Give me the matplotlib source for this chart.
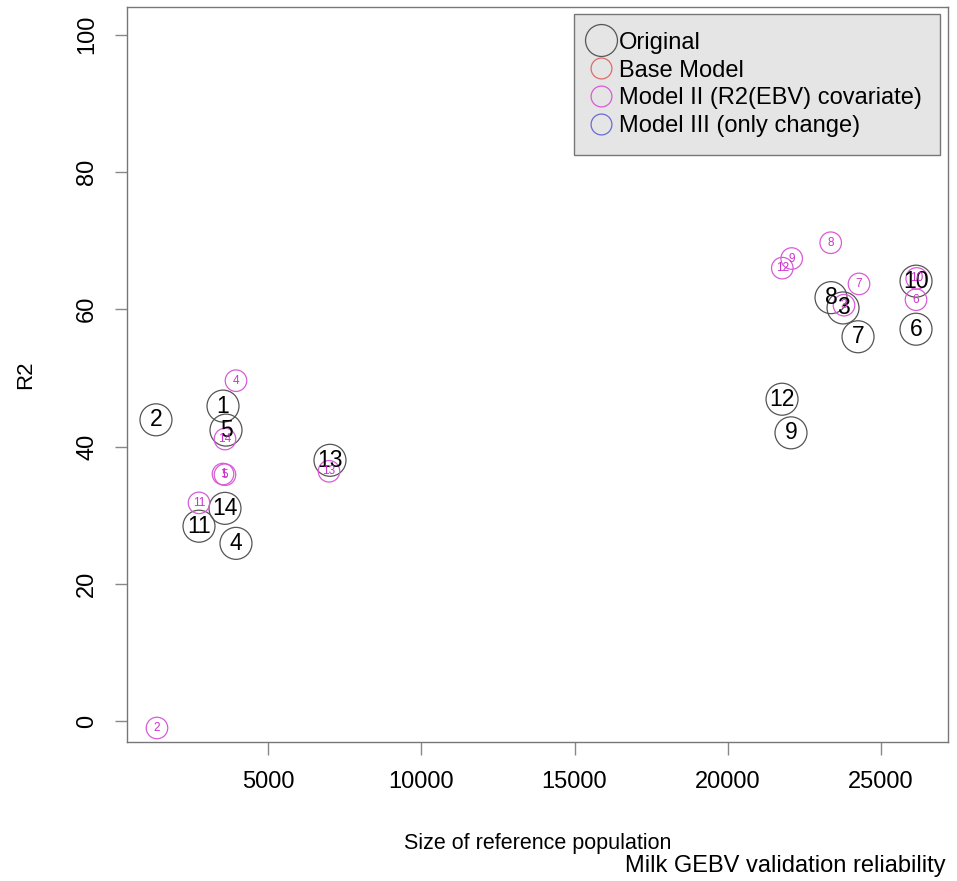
import matplotlib.pyplot as plt
from matplotlib.lines import Line2D

plt.rcParams['font.family'] = ['Liberation Sans', 'DejaVu Sans']

# original model: population size, R2, label
orig_x = [3521, 1332, 23769, 3945, 3619, 26153, 24259, 23377, 22070, 26153, 2737, 21777, 7015, 3586]
orig_y = [45.9, 43.9, 60.2, 25.9, 42.4, 57.1, 56.0, 61.7, 42.0, 64.1, 28.4, 46.9, 38.0, 31.0]
orig_lab = [str(i) for i in range(1, 15)]

# Model II (R2(EBV) covariate)
m2_x = [3521, 1365, 23801, 3945, 3586, 26153, 24291, 23367, 22093, 26175, 2737, 21786, 6983, 3586]
m2_y = [36.0, -1.0, 60.6, 49.6, 35.9, 61.4, 63.7, 69.7, 67.4, 64.5, 31.8, 66.0, 36.4, 41.1]
m2_lab = [str(i) for i in range(1, 15)]

legend_labels = ["Original", "Base Model", "Model II (R2(EBV) covariate)", "Model III (only change)"]
legend_colors = ["#555555", "#e06a6a", "#d95bd9", "#6a6ad9"]

fig = plt.figure(figsize=(9.57, 8.81), dpi=100)
ax = fig.add_axes([0.1330, 0.1581, 0.8573, 0.8336])

ax.scatter(orig_x, orig_y, s=530, facecolors='none', edgecolors='#555555', linewidths=0.9, zorder=2)
for x, y, t in zip(orig_x, orig_y, orig_lab):
    ax.text(x, y, t, ha='center', va='center', fontsize=16.5, color='black', zorder=3)

ax.scatter(m2_x, m2_y, s=240, facecolors='none', edgecolors='#d95bd9', linewidths=0.9, zorder=2)
for x, y, t in zip(m2_x, m2_y, m2_lab):
    ax.text(x, y, t, ha='center', va='center', fontsize=8.5, color='#cc33cc', zorder=3)

ax.set_xlim(395, 27188)
ax.set_ylim(-3.0, 104.0)
ax.set_xticks([5000, 10000, 15000, 20000, 25000])
ax.set_yticks([0, 20, 40, 60, 80, 100])
ax.tick_params(axis='x', labelsize=17, length=9, width=1, colors='#888888', labelcolor='black', pad=12)
ax.tick_params(axis='y', labelsize=17, length=9, width=1, colors='#888888', labelcolor='black', pad=12,
               labelrotation=90)
for lab in ax.get_yticklabels():
    lab.set_verticalalignment('center')
for sp in ax.spines.values():
    sp.set_color('#777777')
    sp.set_linewidth(1)

ax.set_xlabel("Size of reference population", fontsize=15.5, labelpad=29)
ax.set_ylabel("R2", fontsize=16, labelpad=29)
fig.text(0.988, 1 - 866 / 881, "Milk GEBV validation reliability", ha='right', va='center', fontsize=17)

handles = [Line2D([], [], marker='o', linestyle='none', markersize=23 if i == 0 else 15,
                  markerfacecolor='none', markeredgecolor=c, markeredgewidth=0.9)
           for i, c in enumerate(legend_colors)]
leg = ax.legend(handles, legend_labels, loc='upper right', fontsize=17, frameon=True, fancybox=False,
                handlelength=0.8, handletextpad=0.35, labelspacing=0.25, borderpad=0.75,
                borderaxespad=0, bbox_to_anchor=(0.990, 0.991))
leg.get_frame().set_facecolor('#e5e5e5')
leg.get_frame().set_edgecolor('#777777')
leg.get_frame().set_alpha(1)

fig.savefig("out.png", dpi=100)
